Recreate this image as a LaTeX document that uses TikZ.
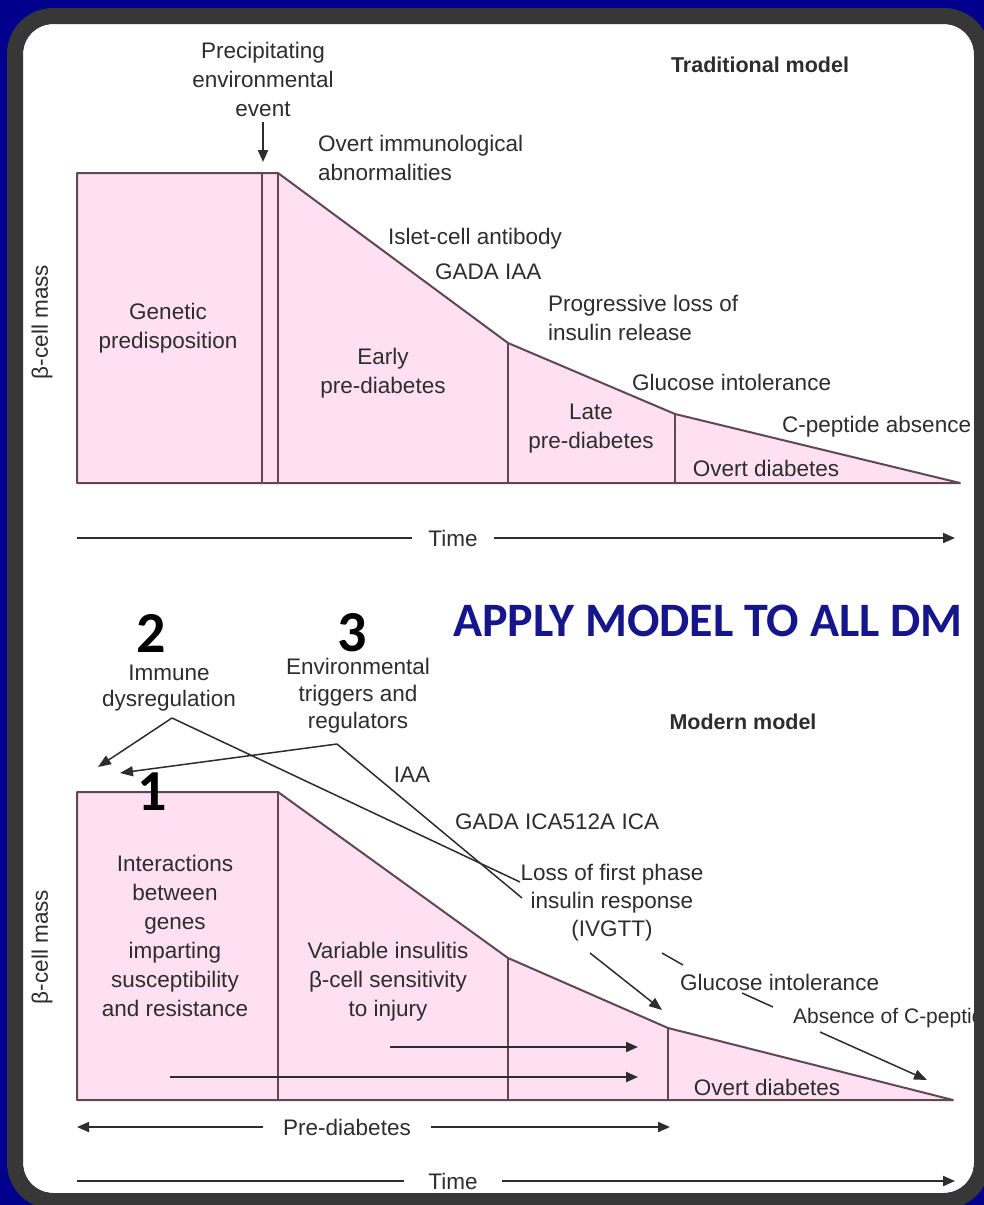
\documentclass[tikz,border=0pt]{standalone}
\usepackage{fontspec}
\setmainfont{Liberation Sans}
\newfontfamily\slidefont{Carlito}
\usetikzlibrary{arrows.meta, positioning, calc}
\usepackage{xcolor}
\definecolor{slidenavy}{RGB}{0,0,140}
\definecolor{applyblue}{RGB}{22,22,140}
\definecolor{framegray}{RGB}{55,55,55}
\definecolor{stagepink}{RGB}{255,224,242}
\definecolor{stageline}{RGB}{95,72,84}
\definecolor{inkgray}{RGB}{45,45,45}

\begin{document}
\begin{tikzpicture}[
        x=1pt, y=-1pt,
        lbl/.style={font=\fontsize{22.5}{29}\selectfont, text=inkgray, align=center, inner sep=0pt},
        lblw/.style={lbl, anchor=west, align=left},
        title/.style={font=\bfseries\fontsize{21.5}{24}\selectfont, text=inkgray, inner sep=0pt},
        stage/.style={fill=stagepink, draw=stageline, line width=2pt, line join=round},
        divider/.style={draw=stageline, line width=2pt},
        axis/.style={draw=inkgray, line width=2pt},
        arrow/.style={axis, -{Triangle[length=12pt,width=10pt]}},
        leader/.style={draw=inkgray, line width=1.5pt},
        pointer/.style={leader, -{Triangle[length=13pt,width=10pt]}},
        bignum/.style={font=\slidefont\bfseries\fontsize{58}{58}\selectfont, inner sep=0pt}
    ]
        \useasboundingbox (0,0) rectangle (984,1205);
        \fill[slidenavy] (0,0) rectangle (984,1205);
        \fill[white, rounded corners=30pt] (23,24) rectangle (974,1193);

        % traditional model
        \coordinate (a0) at (77,173);
        \coordinate (a1) at (262,173);
        \coordinate (a2) at (278,173);
        \coordinate (a3) at (508,343);
        \coordinate (a4) at (675,414);
        \coordinate (a5) at (960,483);
        \coordinate (a6) at (77,483);
        \draw[stage] (a6) -- (a0) -- (a2) -- (a3) -- (a4) -- (a5) -- cycle;
        \foreach \p in {a1,a2,a3,a4}
            \draw[divider] (\p) -- (\p |- a6);

        \node[title] (tradmodel) at (760,65) {Traditional model};
        \node[lbl] (precip) at (263,79) {Precipitating\\environmental\\event};
        \coordinate (hit) at (263,162);
        \draw[arrow] ([yshift=-6pt]precip.south) -- (hit);

        \node[lblw] (overt) at (318,158) {Overt immunological\\abnormalities};
        \node[lblw] (islet) at (388,239) {Islet-cell antibody};
        \node[lblw] (gada1) at (435,272) {GADA IAA};
        \node[lblw] (progloss) at (548,318) {Progressive loss of\\insulin release};
        \node[lblw] (glucose1) at (632,382) {Glucose intolerance};
        \node[lblw] (cpep1) at (782,427) {C-peptide absence};

        \node[lbl] (genetic) at (168,328) {Genetic\\predisposition};
        \node[lbl] (early) at (383,373) {Early\\pre-diabetes};
        \node[lbl] (late) at (591,429) {Late\\pre-diabetes};
        \node[lbl] (overt1) at (766,468) {Overt diabetes};
        \node[lbl, rotate=90] (mass1) at (42,322) {β-cell mass};

        \node[lbl, inner xsep=16pt] (time1) at (453,538) {Time};
        \coordinate (t1l) at (77,538);
        \coordinate (t1r) at (955,538);
        \draw[axis] (time1) -- (t1l);
        \draw[arrow] (time1) -- (t1r);

        % modern model
        \coordinate (b0) at (77,792);
        \coordinate (b1) at (278,792);
        \coordinate (b2) at (508,958);
        \coordinate (b3) at (668,1028);
        \coordinate (b4) at (953,1100);
        \coordinate (b5) at (77,1100);
        \draw[stage] (b5) -- (b0) -- (b1) -- (b2) -- (b3) -- (b4) -- cycle;
        \foreach \p in {b1,b2,b3}
            \draw[divider] (\p) -- (\p |- b5);

        \coordinate (r1s) at (390,1047);
        \coordinate (r1e) at (638,1047);
        \coordinate (r2s) at (170,1077);
        \coordinate (r2e) at (638,1077);
        \draw[arrow] (r1s) -- (r1e);
        \draw[arrow] (r2s) -- (r2e);

        \node[title] (modmodel) at (743,722) {Modern model};
        \node[lbl, font=\fontsize{22.5}{26}\selectfont] (immune) at (169,688) {Immune\\dysregulation};
        \node[lbl, font=\fontsize{22.5}{27}\selectfont] (enviro) at (358,696) {Environmental\\triggers and\\regulators};
        \node[lbl] (iaa) at (412,775) {IAA};
        \node[lblw] (gada2) at (455,822) {GADA ICA512A ICA};
        \node[lbl, font=\fontsize{22.5}{28}\selectfont] (firstphase) at (612,903) {Loss of first phase\\insulin response\\(IVGTT)};
        \node[lblw] (glucose2) at (680,982) {Glucose intolerance};
        \begin{scope}
            \clip (23,24) rectangle (974,1193);
            \node[lblw, font=\fontsize{21}{29}\selectfont] (cpep2) at (793,1018) {Absence of C-peptide};
        \end{scope}

        \node[lbl] (genes) at (175,936) {Interactions\\between\\genes\\imparting\\susceptibility\\and resistance};
        \node[lbl] (insulitis) at (388,982) {Variable insulitis\\β-cell sensitivity\\to injury};
        \node[lbl] (overt2) at (767,1087) {Overt diabetes};
        \node[lbl, rotate=90] (mass2) at (42,947) {β-cell mass};

        \coordinate (immv) at (172,718);
        \coordinate (immtip) at (98,767);
        \coordinate (immend) at (520,882);
        \coordinate (envv) at (337,744);
        \coordinate (envtip) at (120,773);
        \coordinate (envend) at (522,898);
        \draw[pointer] (immv) -- (immtip);
        \draw[leader] (immv) -- (immend);
        \draw[pointer] (envv) -- (envtip);
        \draw[leader] (envv) -- (envend);

        \coordinate (iv0) at (590,953);
        \coordinate (iv1) at (662,1010);
        \draw[pointer] (iv0) -- (iv1);
        \coordinate (c0) at (662,953);
        \coordinate (c1) at (683,965);
        \coordinate (c2) at (742,993);
        \coordinate (c3) at (773,1007);
        \coordinate (c4) at (820,1032);
        \coordinate (c5) at (927,1080);
        \draw[leader] (c0) -- (c1) (c2) -- (c3);
        \draw[pointer] (c4) -- (c5);

        \node[lbl, inner xsep=20pt] (prediab) at (347,1127) {Pre-diabetes};
        \coordinate (p1) at (77,1127);
        \coordinate (p2) at (670,1127);
        \draw[arrow] (prediab) -- (p1);
        \draw[arrow] (prediab) -- (p2);

        \node[lbl, inner xsep=24pt] (time2) at (453,1181) {Time};
        \coordinate (t2l) at (77,1181);
        \coordinate (t2r) at (955,1181);
        \draw[axis] (time2) -- (t2l);
        \draw[arrow] (time2) -- (t2r);

        % slide overlay
        \node[bignum] (n2) at (151,633) {2};
        \node[bignum] (n3) at (352,633) {3};
        \node[bignum] (n1) at (152,792) {1};
        \node[font=\slidefont\bfseries\fontsize{48}{48}\selectfont, text=applyblue, inner sep=0pt] (apply) at (708,621) {APPLY MODEL TO ALL DM};

        \draw[framegray, line width=16pt, rounded corners=38pt] (15,16) rectangle (982,1201);
    \end{tikzpicture}
\end{document}
